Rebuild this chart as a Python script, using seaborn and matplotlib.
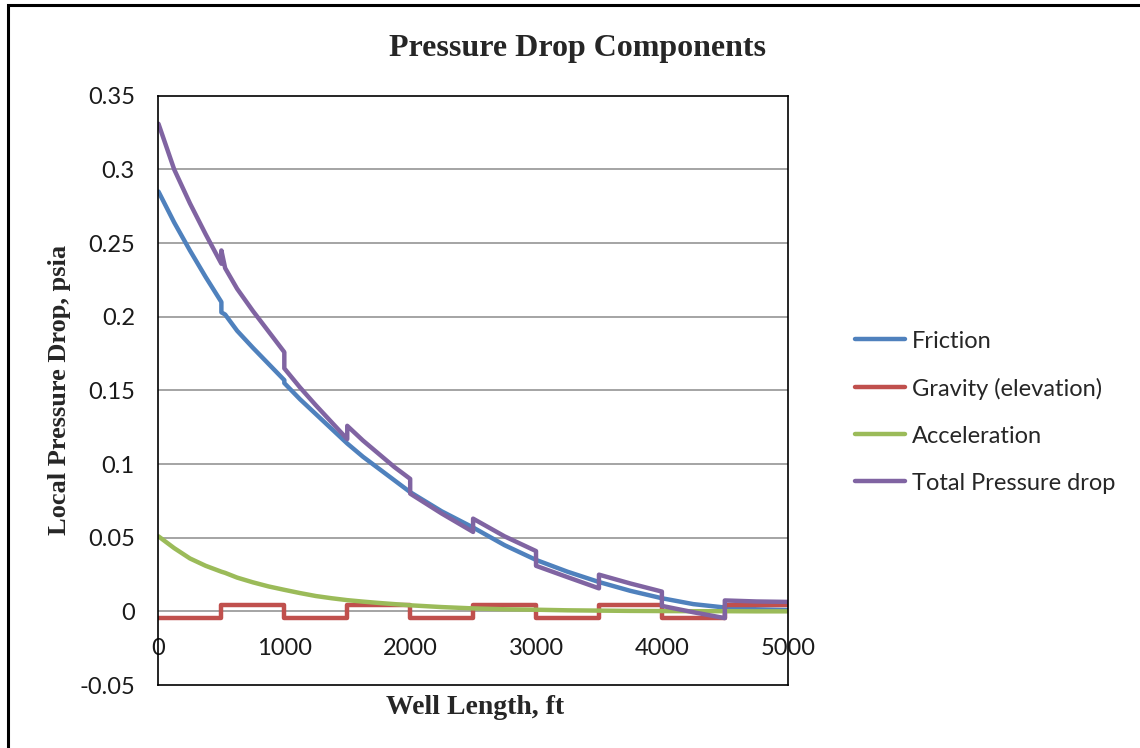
import pandas as pd
import matplotlib.pyplot as plt
import matplotlib.patches as patches
from matplotlib.ticker import FuncFormatter
import seaborn as sns

# well length; five points per 500 ft segment up to 2000 ft, three after,
# boundaries repeated so the steps show
well_length = [0, 125, 250, 375, 500, 500, 530, 625, 750, 875, 1000,
               1000, 1125, 1250, 1375, 1500, 1500, 1625, 1750, 1875, 2000,
               2000, 2250, 2500, 2500, 2750, 3000, 3000, 3250, 3500,
               3500, 3750, 4000, 4000, 4250, 4500, 4500, 4750, 5000]

friction = [0.285, 0.264, 0.245, 0.227, 0.210, 0.203, 0.2015, 0.1905, 0.179, 0.168, 0.157,
            0.155, 0.144, 0.134, 0.124, 0.114, 0.114, 0.105, 0.097, 0.089, 0.081,
            0.081, 0.068, 0.057, 0.057, 0.045, 0.035, 0.035, 0.027, 0.020,
            0.020, 0.014, 0.009, 0.009, 0.005, 0.0027, 0.0027, 0.0015, 0.001]

gravity = [-0.0045, -0.0045, -0.0045, -0.0045, -0.0045,
           0.0045, 0.0045, 0.0045, 0.0045, 0.0045, 0.0045,
           -0.0045, -0.0045, -0.0045, -0.0045, -0.0045, 0.0045, 0.0045, 0.0045, 0.0045, 0.0045,
           -0.0045, -0.0045, -0.0045, 0.0045, 0.0045, 0.0045, -0.0045, -0.0045, -0.0045,
           0.0045, 0.0045, 0.0045, -0.0045, -0.0045, -0.0045, 0.0045, 0.0045, 0.0045]

acceleration = [0.051, 0.043, 0.036, 0.031, 0.027, 0.027, 0.0262, 0.023, 0.0198, 0.017, 0.0147,
                0.0147, 0.0125, 0.0105, 0.009, 0.0077, 0.0077, 0.0067, 0.0058, 0.005, 0.0042,
                0.0042, 0.003, 0.0021, 0.0021, 0.0015, 0.0012, 0.0012, 0.0008, 0.0006,
                0.0006, 0.0004, 0.0003, 0.0003, 0.0002, 0.0002, 0.0002, 0.0001, 0.0001]

total = [0.331, 0.300, 0.277, 0.256, 0.236, 0.245, 0.233, 0.219, 0.204, 0.190, 0.176,
         0.165, 0.152, 0.140, 0.1285, 0.117, 0.126, 0.116, 0.107, 0.098, 0.090,
         0.080, 0.0665, 0.054, 0.063, 0.051, 0.041, 0.031, 0.0233, 0.0157,
         0.025, 0.019, 0.0135, 0.0038, -0.0005, -0.0045, 0.0075, 0.0068, 0.0065]

series_names = ['Friction', 'Gravity (elevation)', 'Acceleration', 'Total Pressure drop']
colors = ['#4F81BD', '#C0504D', '#9BBB59', '#8064A2']
x_ticks = [0, 1000, 2000, 3000, 4000, 5000]
y_ticks = [-0.05, 0, 0.05, 0.1, 0.15, 0.2, 0.25, 0.3, 0.35]

frames = []
for name, vals in zip(series_names, [friction, gravity, acceleration, total]):
    frames.append(pd.DataFrame({'x': well_length, 'y': vals, 'series': name}))
df = pd.concat(frames, ignore_index=True)

sns.set_theme(style='white')
plt.rcParams['font.family'] = ['Lato', 'DejaVu Sans']
plt.rcParams['axes.unicode_minus'] = False

fig = plt.figure(figsize=(11.4, 7.48), dpi=100)
ax = fig.add_axes([0.139, 0.084, 0.552, 0.788])

sns.lineplot(data=df, x='x', y='y', hue='series', hue_order=series_names,
             palette=colors, estimator=None, sort=False, linewidth=3.2, ax=ax)

ax.set_xlim(0, 5000)
ax.set_ylim(-0.05, 0.35)
ax.set_yticks(y_ticks)
ax.yaxis.set_major_formatter(FuncFormatter(lambda v, p: '{:g}'.format(round(v, 2))))
ax.set_xticks(x_ticks)
ax.set_xticklabels([])
ax.tick_params(axis='both', length=0)
ax.tick_params(axis='y', labelsize=17, pad=17, colors='#1a1a1a')
for v in y_ticks[1:-1]:
    ax.axhline(v, color='#8c8c8c', lw=1.1, zorder=0)
for s in ax.spines.values():
    s.set_color('black')
    s.set_linewidth(1.2)
ax.set_xlabel('')
ax.set_ylabel('')

# x labels sit under the zero line like in the Excel chart
sec = ax.secondary_xaxis(0.125)
sec.spines['bottom'].set_visible(False)
sec.set_xticks(x_ticks)
sec.set_xticklabels([str(t) for t in x_ticks])
sec.tick_params(length=0, labelsize=17, pad=19, colors='#1a1a1a')

fig.text(0.507, 0.935, 'Pressure Drop Components', ha='center', va='center',
         family='Liberation Serif', fontweight='bold', fontsize=23)
fig.text(0.052, 0.479, 'Local Pressure Drop, psia', ha='center', va='center', rotation=90,
         family='Liberation Serif', fontweight='bold', fontsize=19)
fig.text(0.417, 0.054, 'Well Length, ft', ha='center', va='center',
         family='Liberation Serif', fontweight='bold', fontsize=20)

handles, labels = ax.get_legend_handles_labels()
ax.legend(handles, labels, loc='center left', bbox_to_anchor=(0.75, 0.449),
          bbox_transform=fig.transFigure, frameon=False, fontsize=17,
          handlelength=2.1, handletextpad=0.3, labelspacing=1.1,
          borderpad=0, borderaxespad=0)

fig.patches.append(patches.Rectangle((0.0066, -0.05), 2, 1.05 - 5.5 / 748, fill=False,
                                     lw=2.2, edgecolor='black', transform=fig.transFigure))

fig.savefig('out.png', dpi=100)
